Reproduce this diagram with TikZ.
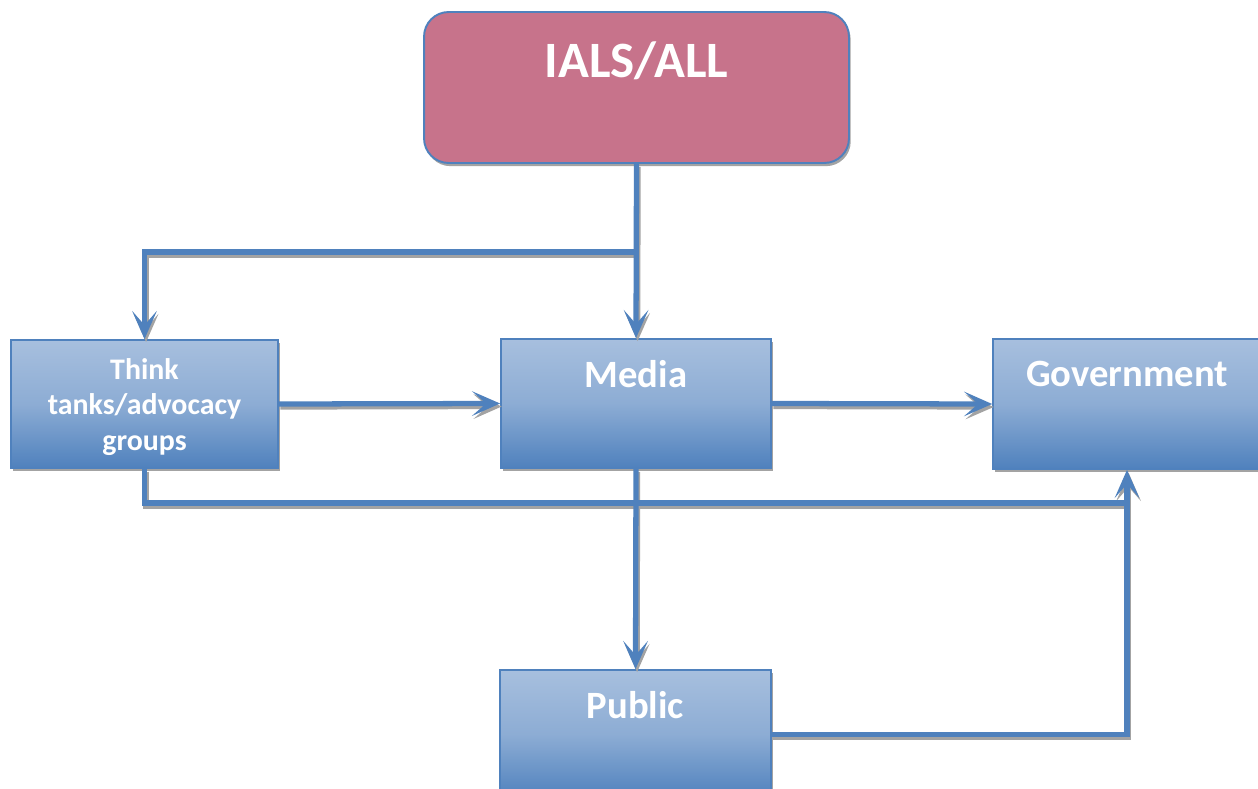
\documentclass[tikz,border=0pt]{standalone}
\usepackage{fontspec}
\setmainfont{Carlito}
\usetikzlibrary{arrows.meta,shadows}
\definecolor{lineblue}{HTML}{4F81BD}
\definecolor{boxtop}{HTML}{A7BFDE}
\definecolor{boxbot}{HTML}{4F81BD}
\definecolor{rose}{HTML}{C7738B}
\definecolor{shade}{HTML}{A3A3A3}
\tikzset{
  shad/.style={drop shadow={shadow xshift=1pt, shadow yshift=-1.8pt, fill=shade, opacity=1}},
  head/.style={draw=lineblue, line width=1.1pt, fill=rose, rounded corners=14pt,
    minimum width=8.5cm, minimum height=3.02cm, inner sep=0pt, shad},
  box/.style={draw=lineblue, line width=1pt, top color=boxtop, bottom color=boxbot,
    middle color=boxtop!70!boxbot, minimum width=5.4cm, minimum height=2.58cm,
    inner sep=0pt, shad},
  boxtext/.style={text=white, font=\bfseries\fontsize{22}{26}\selectfont, inner sep=0pt},
  smalltext/.style={text=white, font=\bfseries\fontsize{17}{20}\selectfont, inner sep=0pt, align=center},
  tip/.style={-{Stealth[length=16pt,width=14pt,inset=8pt]}},
  conn/.style={draw=lineblue, line width=3pt},
  connshadow/.style={draw=shade, line width=3pt},
}
% all connectors, drawn once for the shadow and once on top
\newcommand\drawlinks[1]{
  \draw[#1,tip] (ials.south) -- (media.north);
  \draw[#1,tip] (split) -| (think.north);
  \draw[#1,tip] (think.east) -- (media.west);
  \draw[#1,tip] (media.east) -- (gov.west);
  \draw[#1,tip] (media.south) -- (public.north);
  \draw[#1] (think.south) |- (meet);
  \draw[#1,tip] (public.east) -| (gov.south);
}
\begin{document}
\begin{tikzpicture}[x=0.02cm,y=-0.02cm]
  \useasboundingbox (0,0) rectangle (1258,788);
  % boxes
  \node[head, label={[boxtext, font=\bfseries\fontsize{29}{34}\selectfont, below=17pt]north:IALS/ALL}] (ials) at (636.5,87.5) {};
  \node[box, minimum width=5.34cm, minimum height=2.56cm,
    label={[smalltext, below=11pt]north:Think\\tanks/advocacy\\groups}] (think) at (144.5,404) {};
  \node[box, label={[boxtext, below=12.5pt]north:Media}] (media) at (636,403.5) {};
  \node[box, minimum width=5.36cm, minimum height=2.6cm,
    label={[boxtext, below=13pt]north:Government}] (gov) at (1127,404) {};
  \node[box, minimum width=5.42cm, label={[boxtext, below=12.5pt]north:Public}] (public) at (635.5,734.5) {};
  \coordinate (split) at (ials.south |- 0,252);
  \coordinate (meet) at (gov.south |- 0,503);
  % connectors
  \begin{scope}[transform canvas={shift={(0.9pt,-1.7pt)}}]
    \drawlinks{connshadow}
  \end{scope}
  \drawlinks{conn}
\end{tikzpicture}
\end{document}
